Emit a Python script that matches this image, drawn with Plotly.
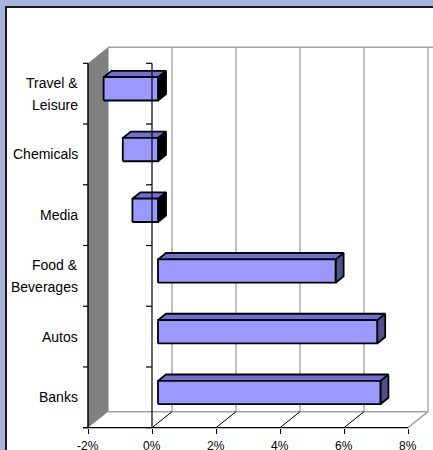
import plotly.graph_objects as go

# ---------------- data ----------------
categories = ["Banks", "Autos", "Food & Beverages", "Media", "Chemicals", "Travel & Leisure"]
label_lines = [["Banks"], ["Autos"], ["Food &", "Beverages"], ["Media"], ["Chemicals"], ["Travel &", "Leisure"]]
values = [6.95, 6.85, 5.55, -0.8, -1.1, -1.7]
tick_vals = [-2, 0, 2, 4, 6, 8]
tick_text = ["-2%", "0%", "2%", "4%", "6%", "8%"]

# ---------------- geometry (pixels) ----------------
W, H = 433, 450
XMIN, XMAX = tick_vals[0], tick_vals[-1]
n = len(categories)
YLO, YHI = -0.5, n - 0.5
left_px, right_px = 88, 408
top_px, bot_px = 63.3, 427.7
depth_px = (20, 16)

ppx = (right_px - left_px) / (XMAX - XMIN)
ppy = (bot_px - top_px) / n
x_range = [XMIN - left_px / ppx, XMIN + (W - left_px) / ppx]
y_range = [YLO - (H - bot_px) / ppy, YHI + top_px / ppy]
DX = depth_px[0] / ppx
DY = depth_px[1] / ppy
F0, F1 = 0.3, 0.7          # bar depth span (fraction of chart depth)
HW = 23.3 / ppy / 2        # half bar thickness

FRONT = "#9999FF"
TOP = "#7070D2"
SIDE_POS = "#50508C"
SIDE_NEG = "#000000"
GRID = "#808080"

fig = go.Figure()


def poly(xs, ys, fill, line_color, lw):
    fig.add_trace(go.Scatter(
        x=list(xs) + [xs[0]], y=list(ys) + [ys[0]], mode="lines",
        fill="toself", fillcolor=fill,
        line=dict(color=line_color, width=lw),
        hoverinfo="skip", showlegend=False))


def lines(segs, color, lw):
    xs, ys = [], []
    for (x0, y0, x1, y1) in segs:
        xs += [x0, x1, None]
        ys += [y0, y1, None]
    fig.add_trace(go.Scatter(x=xs, y=ys, mode="lines",
                             line=dict(color=color, width=lw),
                             hoverinfo="skip", showlegend=False))


# back wall
poly([XMIN + DX, XMAX + DX + 2, XMAX + DX + 2, XMIN + DX],
     [YLO + DY, YLO + DY, YHI + DY, YHI + DY], "white", "rgba(0,0,0,0)", 0)
# floor
poly([XMIN, XMAX, XMAX + DX, XMIN + DX], [YLO, YLO, YLO + DY, YLO + DY], "white", "rgba(0,0,0,0)", 0)
# back wall gridlines
lines([(v + DX, YLO + DY, v + DX, YHI + DY) for v in tick_vals], GRID, 1)
# back wall top edge, floor back edge and floor right edge
lines([(XMIN + DX, YHI + DY, XMAX + DX + 2, YHI + DY),
       (XMIN + DX, YLO + DY, XMAX + DX, YLO + DY),
       (XMAX, YLO, XMAX + DX, YLO + DY)], "#A0A0A0", 1.5)
# floor gridlines
lines([(v, YLO, v + DX, YLO + DY) for v in tick_vals[1:-1]], "#000000", 1)
# left side wall
poly([XMIN, XMIN + DX, XMIN + DX, XMIN], [YHI, YHI + DY, YLO + DY, YLO], GRID, "rgba(0,0,0,0)", 0)
# left wall front edge
lines([(XMIN, YLO, XMIN, YHI)], "#000000", 1.5)

# bars
for i, v in enumerate(values):
    lo, hi = min(0, v), max(0, v)
    b, t = i - HW, i + HW
    side = SIDE_POS if v > 0 else SIDE_NEG
    poly([hi + F0 * DX, hi + F1 * DX, hi + F1 * DX, hi + F0 * DX],
         [b + F0 * DY, b + F1 * DY, t + F1 * DY, t + F0 * DY], side, "#000000", 1.8)
    poly([lo + F0 * DX, hi + F0 * DX, hi + F1 * DX, lo + F1 * DX],
         [t + F0 * DY, t + F0 * DY, t + F1 * DY, t + F1 * DY], TOP, "#000000", 1.8)
    poly([lo + F0 * DX, hi + F0 * DX, hi + F0 * DX, lo + F0 * DX],
         [b + F0 * DY, b + F0 * DY, t + F0 * DY, t + F0 * DY], FRONT, "#000000", 1.8)

# zero axis, front axis and tick marks
tk = 5 / ppx
segs = [(0, YLO, 0, YHI), (XMIN - tk, YLO, XMAX, YLO)]
for k in range(n + 1):
    yb = YLO + k
    segs.append((0 - 6 / ppx, yb, 0, yb))
    segs.append((XMIN - tk, yb, XMIN, yb))
lines(segs, "#000000", 1.2)

FONT = "Liberation Sans, Arial, sans-serif"
# value-axis tick labels
for v, txt in zip(tick_vals, tick_text):
    fig.add_annotation(x=v, y=YLO, xref="x", yref="y", text=txt, showarrow=False,
                       xanchor="center", yanchor="top", yshift=-9,
                       font=dict(family=FONT, size=12, color="#000000"))

# category labels
for i, parts in enumerate(label_lines):
    m = len(parts)
    for j, txt in enumerate(parts):
        off = (m - 1) / 2 - j
        fig.add_annotation(x=XMIN, y=i, xref="x", yref="y", text=txt, showarrow=False,
                           xanchor="right", yanchor="middle", xshift=-8, yshift=off * 21.7,
                           font=dict(family=FONT, size=14, color="#000000"))

fig.update_layout(
    width=W, height=H, margin=dict(l=0, r=0, t=0, b=0),
    paper_bgcolor="#A6B4D9", plot_bgcolor="rgba(0,0,0,0)",
    xaxis=dict(range=x_range, anchor="free", position=(H - bot_px) / H,
               tickvals=tick_vals, ticks="outside", ticklen=5, showticklabels=False,
               tickwidth=1, tickcolor="#000000", showgrid=False, zeroline=False,
               showline=False, fixedrange=True),
    yaxis=dict(range=y_range, visible=False, fixedrange=True),
    shapes=[dict(type="rect", xref="paper", yref="paper", x0=6 / W, x1=1.2,
                 y0=-0.2, y1=1 - 7 / H, fillcolor="white",
                 line=dict(color="#1A1A1A", width=2), layer="below")],
)

fig.write_html("out.html")
